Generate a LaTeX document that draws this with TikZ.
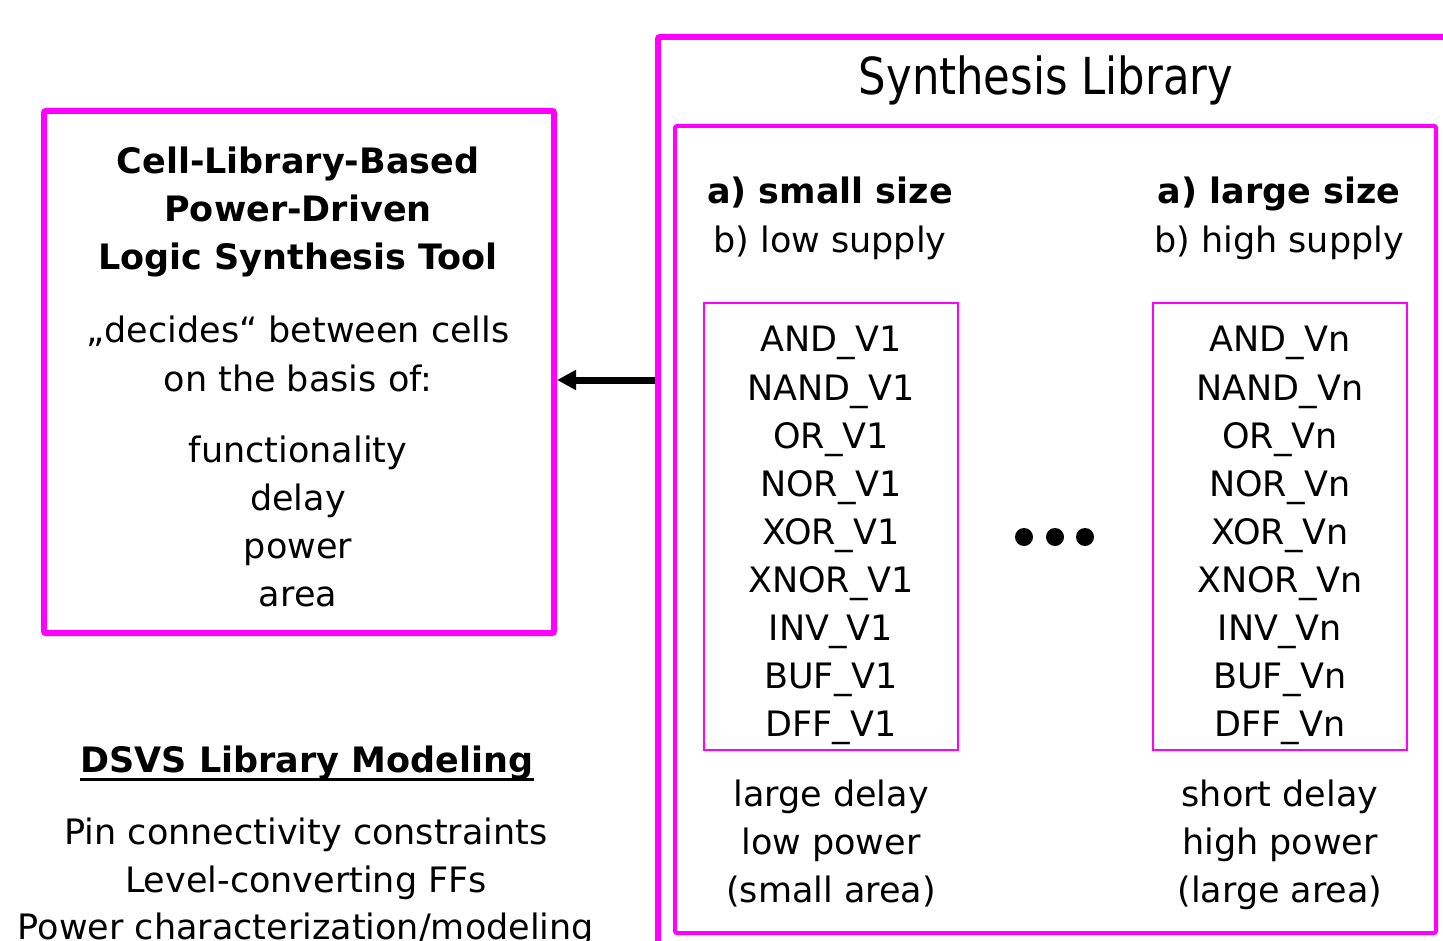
\documentclass[tikz,border=0pt]{standalone}
\usepackage{fontspec}
\setmainfont{DejaVu Sans}
\newfontfamily\titlefont[FakeStretch=0.85]{DejaVu Sans}
\usetikzlibrary{
  arrows.meta,
  positioning
}
\definecolor{framepink}{RGB}{255,0,255}

\tikzset{
  txt/.style={anchor=base, inner sep=0pt, font=\fontsize{35}{48}\selectfont},
  boldtxt/.style={txt, font=\fontsize{35}{48}\selectfont\bfseries},
  frame/.style={draw=framepink, inner sep=0pt, rounded corners=2pt}
}

\begin{document}
\begin{tikzpicture}[x=1pt, y=-1pt]
  \useasboundingbox (0,0) rectangle (1443,941);
  \clip (0,0) rectangle (1443,941);

  % Frames
  \node[frame, line width=6pt, minimum width=510pt, minimum height=522pt]
    (tool) at (299,372) {};
  \node[frame, line width=6pt, minimum width=812pt, minimum height=933pt]
    (lib) at (1064,503.5) {};
  \node[frame, line width=4pt, minimum width=761pt, minimum height=807pt]
    (inner) at (1055.5,529.5) {};
  \node[frame, line width=2pt, rounded corners=0pt,
    minimum width=254pt, minimum height=447pt] (cellsA) at (831,526.5) {};
  \node[frame, line width=2pt, rounded corners=0pt,
    minimum width=254pt, minimum height=447pt] (cellsB) at (1280,526.5) {};

  % Arrow from the library to the tool
  \coordinate (tap) at (658,380);
  \draw[line width=7pt, -{Triangle[length=19pt, width=19pt]}]
    (lib.west |- tap) -- (tool.east |- tap);

  % Title
  \node[anchor=base, inner sep=0pt, font=\titlefont\fontsize{51}{60}\selectfont]
    (title) at (1046,95) {Synthesis Library};

  % Tool box text
  \foreach \k/\y/\line in {
    1/174/Cell-Library-Based,
    2/222/Power-Driven,
    3/270/Logic Synthesis Tool
  }{
    \node[boldtxt] (head\k) at (298,\y) {\line};
  }
  \foreach \k/\y/\line in {
    1/342/{„decides“ between cells},
    2/391/{on the basis of:},
    3/462/functionality,
    4/510/delay,
    5/558/power,
    6/606/area
  }{
    \node[txt] (crit\k) at (298,\y) {\line};
  }

  % Library headers
  \node[boldtxt] (sizeA) at (830,204) {a) small size};
  \node[txt] (supA) at (830,253) {b) low supply};
  \node[boldtxt] (sizeB) at (1279,204) {a) large size};
  \node[txt] (supB) at (1279,253) {b) high supply};

  % Cell lists
  \foreach \name [count=\k] in {AND,NAND,OR,NOR,XOR,XNOR,INV,BUF,DFF}{
    \node[txt] (vA\k) at (831,{304+48*\k}) {\name\_V1};
    \node[txt] (vB\k) at (1280,{304+48*\k}) {\name\_Vn};
  }

  % Dots between the lists
  \foreach \x in {1024,1055,1085}
    \fill (\x,537) circle (9pt);

  % Properties
  \foreach \k/\y/\lineA/\lineB in {
    1/806/large delay/short delay,
    2/854/low power/high power,
    3/902/(small area)/(large area)
  }{
    \node[txt] (propA\k) at (831,\y) {\lineA};
    \node[txt] (propB\k) at (1280,\y) {\lineB};
  }

  % DSVS modeling
  \node[boldtxt] (dsvs) at (307,772) {DSVS Library Modeling};
  \draw[line width=3pt] ([yshift=-7pt]dsvs.base west) -- ([yshift=-7pt]dsvs.base east);
  \foreach \k/\y/\line in {
    1/844/Pin connectivity constraints,
    2/892/Level-converting FFs,
    3/939/{Power characterization/modeling}
  }{
    \node[txt] (model\k) at (306,\y) {\line};
  }
\end{tikzpicture}
\end{document}
